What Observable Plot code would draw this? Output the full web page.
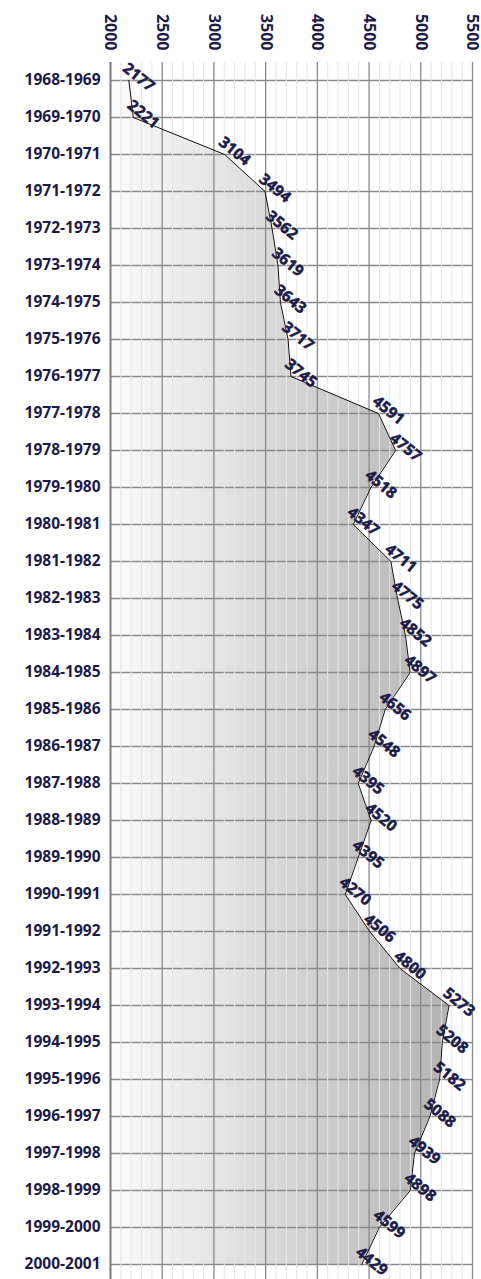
<!DOCTYPE html>
<html>
<head>
<meta charset="utf-8">
<script src="https://cdn.jsdelivr.net/npm/d3@7"></script>
<script src="https://cdn.jsdelivr.net/npm/@observablehq/plot@0.6"></script>
<style>
  html, body { margin: 0; padding: 0; background: #fff; }
</style>
</head>
<body>
<div id="chart"></div>
<script>
const seasons = ["1968-1969","1969-1970","1970-1971","1971-1972","1972-1973","1973-1974","1974-1975","1975-1976","1976-1977","1977-1978","1978-1979","1979-1980","1980-1981","1981-1982","1982-1983","1983-1984","1984-1985","1985-1986","1986-1987","1987-1988","1988-1989","1989-1990","1990-1991","1991-1992","1992-1993","1993-1994","1994-1995","1995-1996","1996-1997","1997-1998","1998-1999","1999-2000","2000-2001"];
const values = [2177,2221,3104,3494,3562,3619,3643,3717,3745,4591,4757,4518,4347,4711,4775,4852,4897,4656,4548,4395,4520,4395,4270,4506,4800,5273,5208,5182,5088,4939,4898,4599,4429];
const majorTicks = [2000,2500,3000,3500,4000,4500,5000,5500];
const minorTicks = d3.range(2000, 5501, 100);

const data = seasons.map((s, i) => ({season: s, value: values[i]}));
const navy = "#1c1a48";

const gradientDefs = (index, scales) => {
  const ns = "http://www.w3.org/2000/svg";
  const defs = document.createElementNS(ns, "defs");
  const g = document.createElementNS(ns, "linearGradient");
  g.setAttribute("id", "areaGrad");
  g.setAttribute("gradientUnits", "userSpaceOnUse");
  g.setAttribute("x1", scales.x(2000));
  g.setAttribute("x2", scales.x(5400));
  g.setAttribute("y1", 0);
  g.setAttribute("y2", 0);
  [["0%", "#fcfcfc"], ["100%", "#b0b0b0"]].forEach(([o, c]) => {
    const st = document.createElementNS(ns, "stop");
    st.setAttribute("offset", o);
    st.setAttribute("stop-color", c);
    g.appendChild(st);
  });
  defs.appendChild(g);
  return defs;
};

const chart = Plot.plot({
  width: 481,
  height: 1279,
  marginTop: 62,
  marginBottom: 0,
  marginLeft: 110,
  marginRight: 9,
  style: {color: navy, fontFamily: "'Open Sans', sans-serif", background: "#fff", overflow: "visible"},
  x: {domain: [2000, 5500], axis: null},
  y: {type: "point", domain: seasons, range: [61.5, 1282.8], axis: null},
  marks: [
    gradientDefs,
    Plot.areaX(data, {y: "season", x1: 2000, x2: "value", fill: "url(#areaGrad)"}),
    Plot.ruleY(seasons, {y: d => d, stroke: "#8a8a8a", strokeWidth: 1.3}),
    Plot.ruleX(minorTicks.filter(d => d % 500 !== 0), {x: d => d, stroke: "#e6e6e6", strokeWidth: 1}),
    Plot.ruleX(majorTicks.slice(1), {x: d => d, stroke: "#8a8a8a", strokeWidth: 1.3}),
    Plot.ruleX([2000], {x: d => d, stroke: "#7a7a7a", strokeWidth: 2}),
    Plot.lineX(data, {y: "season", x: "value", stroke: "#111", strokeWidth: 1}),
    Plot.text(data, {
      y: "season", x: "value", text: d => String(d.value),
      rotate: 39, textAnchor: "start", lineAnchor: "bottom",
      dx: -7, dy: -10.5, fontSize: 15.5, fontWeight: "bold", fill: navy,
      stroke: navy, strokeWidth: 0.5
    }),
    Plot.text(majorTicks, {
      x: d => d, text: d => String(d), frameAnchor: "top", dy: -12,
      rotate: 90, textAnchor: "end", lineAnchor: "middle",
      fontSize: 16, fontWeight: "bold", fill: navy
    }),
    Plot.text(seasons, {
      y: d => d, text: d => d, frameAnchor: "left", dx: -10,
      textAnchor: "end", lineAnchor: "middle",
      fontSize: 15.5, fontWeight: "bold", fill: navy
    })
  ]
});
document.getElementById("chart").appendChild(chart);
</script>
</body>
</html>
